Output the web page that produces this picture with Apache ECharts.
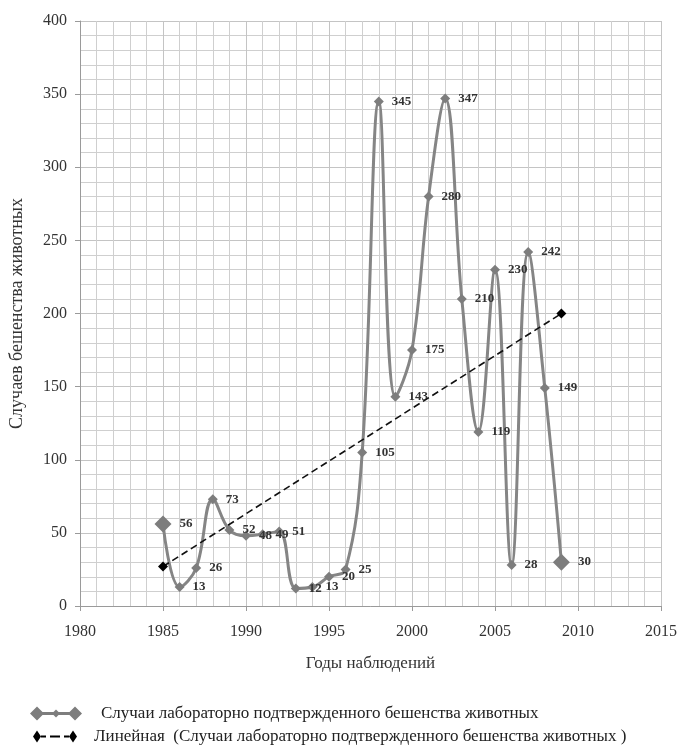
<!DOCTYPE html>
<html>
<head>
<meta charset="utf-8">
<script src="https://cdn.jsdelivr.net/npm/echarts@6/dist/echarts.min.js"></script>
<style>
html,body{margin:0;padding:0;background:#fff;}
#chart{width:681px;height:749px;}
</style>
</head>
<body>
<div id="chart"></div>
<script>
var years = [1985,1986,1987,1988,1989,1990,1991,1992,1993,1994,1995,1996,1997,1998,1999,2000,2001,2002,2003,2004,2005,2006,2007,2008,2009];
var cases = [56,13,26,73,52,48,49,51,12,13,20,25,105,345,143,175,280,347,210,119,230,28,242,149,30];
var trendYears = [1985, 2009];
var trendValues = [27, 200];
var seriesName = 'Случаи лабораторно подтвержденного бешенства животных';
var trendName = 'Линейная  (Случаи лабораторно подтвержденного бешенства животных )';

var font = 'Liberation Serif';
var mainData = years.map(function(y,i){return [y, cases[i]];});
var trendData = trendYears.map(function(y,i){return [y, trendValues[i]];});
var lastIdx = cases.length - 1;

var iconMain = 'path://M0 7L7 0L14 7L7 14ZM38 7L45 0L52 7L45 14ZM22 7L26 3L30 7L26 11ZM7 5.5L45 5.5L45 8.5L7 8.5Z';
var iconTrend = 'path://M0 6L4 0L8 6L4 12ZM36 6L40 0L44 6L40 12ZM8 5L13 5L13 7L8 7ZM17 5L27 5L27 7L17 7ZM31 5L36 5L36 7L31 7Z';

var chart = echarts.init(document.getElementById('chart'));
chart.setOption({
  backgroundColor:'#fff',
  animation:false,
  textStyle:{fontFamily:font},
  grid:{left:76,right:20,top:21,bottom:143},
  legend:[
    {
      left:25, top:700,
      itemWidth:52, itemHeight:14,
      textStyle:{fontFamily:font,fontSize:17,color:'#222',padding:[0,0,0,14]},
      data:[{name:seriesName, icon:iconMain, itemStyle:{color:'#7d7d7d'}}]
    },
    {
      left:28, top:723,
      itemWidth:44, itemHeight:12,
      textStyle:{fontFamily:font,fontSize:17,color:'#222',padding:[0,0,0,12]},
      data:[{name:trendName, icon:iconTrend, itemStyle:{color:'#000'}}]
    }
  ],
  xAxis:{
    type:'value', min:1980, max:2015, interval:5,
    name:'Годы наблюдений', nameLocation:'middle', nameGap:49,
    nameTextStyle:{fontFamily:font,fontSize:17,color:'#333'},
    axisLine:{show:true,lineStyle:{color:'#9a9a9a'}},
    axisTick:{show:true,length:5,lineStyle:{color:'#9a9a9a'}},
    axisLabel:{fontFamily:font,fontSize:16,color:'#333',margin:18,
      formatter:function(v){return String(v);}},
    splitLine:{show:true,lineStyle:{color:'#c4c4c4'}},
    minorTick:{show:false,splitNumber:5},
    minorSplitLine:{show:true,lineStyle:{color:'#cfcfcf'}}
  },
  yAxis:{
    type:'value', min:0, max:400, interval:50,
    name:'Случаев бешенства животных', nameLocation:'middle', nameGap:54, nameRotate:90,
    nameTextStyle:{fontFamily:font,fontSize:18,color:'#333'},
    axisLine:{show:true,lineStyle:{color:'#9a9a9a'}},
    axisTick:{show:true,length:5,lineStyle:{color:'#9a9a9a'}},
    axisLabel:{fontFamily:font,fontSize:16,color:'#333',margin:13},
    splitLine:{show:true,lineStyle:{color:'#c4c4c4'}},
    minorTick:{show:false,splitNumber:5},
    minorSplitLine:{show:true,lineStyle:{color:'#cfcfcf'}}
  },
  series:[
    {
      name:seriesName,
      type:'line',
      data:mainData,
      smooth:0.4,
      symbol:'diamond',
      symbolSize:function(v,p){return (p.dataIndex===0||p.dataIndex===lastIdx)?17:10;},
      lineStyle:{color:'#858585',width:3},
      itemStyle:{color:'#7d7d7d'},
      label:{show:true,position:'right',distance:8,fontFamily:font,fontSize:13,fontWeight:'bold',color:'#333',
        formatter:function(p){return p.value[1];}},
      z:3
    },
    {
      name:trendName,
      type:'line',
      data:trendData,
      symbol:'diamond',
      symbolSize:10,
      lineStyle:{color:'#111',width:1.6,type:[7,4]},
      itemStyle:{color:'#000'},
      z:4
    }
  ]
});
</script>
</body>
</html>
